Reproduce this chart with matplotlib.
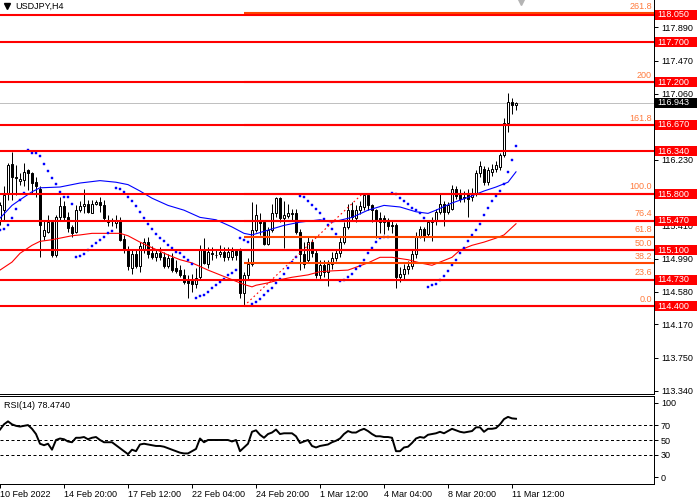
import numpy as np
import matplotlib
matplotlib.use("Agg")
import matplotlib.pyplot as plt
from matplotlib.patches import Rectangle
from matplotlib.transforms import blended_transform_factory

plt.rcParams['font.family'] = ['Liberation Sans', 'DejaVu Sans']

# ---- data ----
symbol = "USDJPY,H4"
last_price = 116.943

opens = [115.47, 115.60, 115.81, 116.18, 116.02, 115.96, 115.98, 116.10, 116.06, 115.95,
         115.87, 115.28, 115.33, 115.45, 115.04, 115.52, 115.65, 115.52, 115.39, 115.33,
         115.60, 115.65, 115.68, 115.57, 115.68, 115.70, 115.67, 115.48, 115.46, 115.44,
         115.48, 115.24, 115.10, 114.88, 115.05, 114.90, 115.12, 115.20, 115.06, 115.02,
         115.07, 115.02, 114.90, 115.00, 114.88, 114.85, 114.79, 114.72, 114.71, 114.68,
         114.76, 115.12, 114.93, 115.07, 115.04, 115.05, 115.08, 115.01, 115.02, 115.09,
         115.10, 114.56, 114.79, 114.93, 115.35, 115.48, 115.45, 115.18, 115.35, 115.56,
         115.75, 115.50, 115.53, 115.55, 115.56, 115.33, 115.05, 114.98, 115.20, 115.06,
         114.79, 114.91, 114.83, 114.93, 115.00, 115.06, 115.20, 115.39, 115.60, 115.50,
         115.60, 115.64, 115.79, 115.66, 115.60, 115.50, 115.50, 115.46, 115.42, 115.42,
         114.76, 114.80, 114.86, 114.90, 115.05, 115.27, 115.37, 115.30, 115.45, 115.47,
         115.58, 115.68, 115.58, 115.62, 115.87, 115.80, 115.76, 115.80, 115.76, 115.80,
         116.06, 116.12, 115.95, 116.08, 116.12, 116.14, 116.29, 116.69, 116.96, 116.92]
highs = [115.70, 115.90, 116.19, 116.33, 116.17, 116.06, 116.19, 116.11, 116.08, 116.02,
         115.90, 115.48, 115.54, 115.48, 115.54, 115.77, 115.71, 115.58, 115.42, 115.67,
         115.71, 115.87, 115.73, 115.73, 115.73, 115.77, 115.73, 115.54, 115.50, 115.54,
         115.52, 115.29, 115.15, 115.12, 115.12, 115.20, 115.25, 115.26, 115.15, 115.11,
         115.14, 115.08, 115.05, 115.06, 114.98, 114.91, 114.86, 114.79, 114.80, 114.88,
         115.16, 115.25, 115.14, 115.14, 115.12, 115.17, 115.14, 115.14, 115.14, 115.12,
         115.13, 114.83, 115.00, 115.70, 115.68, 115.56, 115.47, 115.39, 115.68, 115.77,
         115.77, 115.72, 115.68, 115.62, 115.62, 115.36, 115.20, 115.26, 115.24, 115.10,
         114.98, 114.97, 114.97, 115.08, 115.12, 115.26, 115.45, 115.68, 115.70, 115.66,
         115.72, 115.81, 115.81, 115.68, 115.62, 115.58, 115.54, 115.50, 115.48, 115.44,
         114.89, 114.92, 114.96, 115.10, 115.33, 115.40, 115.39, 115.48, 115.52, 115.62,
         115.80, 115.72, 115.70, 115.92, 115.90, 115.86, 115.84, 115.86, 115.88, 116.10,
         116.22, 116.15, 116.14, 116.18, 116.22, 116.32, 116.75, 117.07, 117.00, 116.96]
lows = [115.42, 115.48, 115.73, 115.73, 115.79, 115.92, 115.90, 115.85, 115.81, 115.77,
        115.02, 115.23, 115.31, 115.02, 115.02, 115.48, 115.46, 115.33, 115.27, 115.31,
        115.58, 115.56, 115.56, 115.56, 115.67, 115.58, 115.46, 115.40, 115.40, 115.38,
        115.21, 115.06, 114.85, 114.80, 114.87, 114.82, 115.07, 115.00, 114.99, 114.96,
        114.98, 114.87, 114.88, 114.83, 114.81, 114.76, 114.68, 114.50, 114.58, 114.62,
        114.74, 114.92, 114.88, 114.98, 115.00, 115.02, 114.96, 114.98, 114.98, 114.98,
        114.50, 114.40, 114.72, 114.90, 115.33, 115.29, 115.16, 115.16, 115.33, 115.52,
        115.45, 115.13, 115.50, 115.48, 115.30, 114.85, 114.88, 114.95, 115.02, 114.75,
        114.72, 114.76, 114.65, 114.86, 114.96, 115.02, 115.18, 115.36, 115.46, 115.45,
        115.55, 115.60, 115.60, 115.45, 115.25, 115.32, 115.30, 115.35, 115.32, 114.63,
        114.70, 114.74, 114.80, 114.86, 115.00, 115.25, 115.22, 115.28, 115.22, 115.42,
        115.55, 115.40, 115.55, 115.60, 115.74, 115.70, 115.70, 115.52, 115.72, 115.78,
        116.02, 115.92, 115.92, 116.03, 116.08, 116.10, 116.27, 116.58, 116.80, 116.86]
closes = [115.66, 115.79, 116.17, 116.01, 116.00, 115.99, 116.08, 116.06, 115.94, 115.90,
          115.42, 115.35, 115.45, 115.04, 115.51, 115.65, 115.52, 115.38, 115.32, 115.60,
          115.65, 115.68, 115.58, 115.68, 115.70, 115.66, 115.50, 115.45, 115.46, 115.46,
          115.23, 115.10, 114.90, 115.05, 114.90, 115.15, 115.20, 115.05, 115.02, 115.07,
          115.02, 114.90, 115.00, 114.85, 114.84, 114.79, 114.70, 114.69, 114.68, 114.75,
          115.12, 114.94, 115.08, 115.05, 115.04, 115.08, 115.01, 115.08, 115.09, 115.04,
          114.56, 114.79, 114.93, 115.35, 115.54, 115.44, 115.18, 115.35, 115.56, 115.75,
          115.50, 115.54, 115.56, 115.57, 115.33, 115.05, 114.92, 115.20, 115.06, 114.79,
          114.91, 114.83, 114.93, 115.00, 115.06, 115.20, 115.39, 115.60, 115.52, 115.60,
          115.65, 115.79, 115.66, 115.60, 115.47, 115.45, 115.45, 115.40, 115.40, 114.76,
          114.80, 114.86, 114.90, 115.05, 115.27, 115.37, 115.27, 115.45, 115.47, 115.58,
          115.68, 115.58, 115.66, 115.87, 115.78, 115.74, 115.75, 115.74, 115.82, 116.06,
          116.15, 115.95, 116.10, 116.12, 116.16, 116.29, 116.69, 116.96, 116.92, 116.943]

sar = [115.35, 115.36, 115.41, 115.50, 115.62, 115.73, 115.82, 116.35, 116.32, 116.32,
       116.28, 116.18, 116.09, 116.00, 115.93, 115.83, 115.76, 115.76, 115.68, 115.02,
       115.03, 115.05, 115.10, 115.15, 115.19, 115.23, 115.27, 115.31, 115.34, 115.88,
       115.87, 115.83, 115.77, 115.71, 115.65, 115.58, 115.50, 115.43, 115.36, 115.30,
       115.25, 115.22, 115.17, 115.13, 115.08, 115.06, 115.02, 114.97, 114.92, 114.50,
       114.52, 114.54, 114.58, 114.63, 114.66, 114.70, 114.74, 114.79, 114.81, 114.85,
       115.25, 115.23, 115.20, 114.42, 114.45, 114.49, 114.54, 114.59, 114.63, 114.69,
       114.74, 114.80, 114.88, 114.95, 115.01, 115.78, 115.76, 115.72, 115.67, 115.62,
       115.56, 115.49, 115.42, 115.36, 115.30, 114.71, 114.72, 114.76, 114.80, 114.86,
       114.90, 114.98, 115.06, 115.13, 115.20, 115.25, 115.26, 115.27, 115.82, 115.80,
       115.75, 115.72, 115.68, 115.63, 115.60, 115.56, 115.50, 114.64, 114.66, 114.68,
       114.72, 114.78, 114.84, 114.91, 114.97, 115.06, 115.13, 115.21, 115.29, 115.35,
       115.43, 115.54, 115.63, 115.71, 115.78, 115.84, 115.93, 116.08, 116.23, 116.40]

blue_ma_bars = [0, 3, 5, 8, 10, 15, 20, 25, 29, 32, 35, 38, 42, 46, 50, 54, 58, 61, 63,
                67, 71, 75, 80, 83, 88, 92, 96, 100, 104, 107, 109, 113, 117, 121, 124, 127, 129]
blue_ma = [115.50, 115.66, 115.73, 115.83, 115.88, 115.89, 115.94, 115.97, 115.95, 115.92,
           115.84, 115.75, 115.66, 115.60, 115.51, 115.48, 115.39, 115.31, 115.29, 115.35,
           115.41, 115.45, 115.48, 115.45, 115.51, 115.60, 115.66, 115.64, 115.58, 115.56,
           115.60, 115.69, 115.76, 115.84, 115.89, 115.95, 116.08]

red_ma_bars = [0, 3, 5, 8, 10, 13, 15, 18, 20, 23, 30, 32, 35, 38, 42, 45, 48, 52, 55, 58,
               61, 63, 64, 67, 70, 73, 77, 80, 83, 87, 92, 95, 98, 102, 105, 108, 110, 113,
               115, 118, 121, 124, 126, 129]
red_ma = [114.85, 114.95, 115.06, 115.16, 115.21, 115.23, 115.25, 115.28, 115.29, 115.31,
          115.31, 115.28, 115.20, 115.13, 115.04, 114.98, 114.94, 114.85, 114.79, 114.73,
          114.67, 114.64, 114.66, 114.69, 114.73, 114.76, 114.79, 114.83, 114.84, 114.85,
          114.94, 115.01, 115.01, 114.98, 114.94, 114.91, 114.95, 115.01, 115.10, 115.16,
          115.20, 115.25, 115.29, 115.43]

rsi = [64, 71, 75, 71, 69, 68, 69, 70, 65, 58, 45, 43, 45, 37, 50, 52, 51, 48, 47, 53,
       53, 54, 51, 53, 54, 50, 47, 47, 47, 43, 39, 35, 31, 37, 35, 44, 45, 44, 43, 42,
       42, 41, 39, 37, 35, 33, 32, 32, 35, 38, 52, 47, 50, 50, 50, 50, 50, 50, 48, 50,
       35, 40, 45, 61, 63, 57, 53, 58, 60, 64, 58, 59, 59, 59, 55, 46, 48, 50, 42, 40,
       42, 43, 44, 47, 49, 52, 58, 62, 60, 60, 63, 65, 62, 58, 55, 55, 54, 54, 53, 35,
       35, 40, 41, 46, 52, 54, 53, 57, 58, 59, 61, 59, 62, 65, 63, 61, 60, 61, 62, 67,
       67, 61, 65, 65, 66, 71, 78, 81, 79, 78.474]
rsi_levels = [70, 50, 30]

red_levels = [118.05, 117.70, 117.20, 116.67, 116.34, 115.80, 115.47, 115.10, 114.73, 114.40]
fib_levels = [114.40, 114.73, 114.935, 115.10, 115.265, 115.47, 115.805, 116.665, 117.20, 118.065]
fib_names = ["0.0", "23.6", "38.2", "50.0", "61.8", "76.4", "100.0", "161.8", "200", "261.8"]
fib_start_bar = 61
fib_trend = ([61, 90.5], [114.40, 115.80])

# 115.820 sits fully under the 115.800 box in the reference, so it is left out
price_ticks = [117.89, 117.47, 117.06, 116.65, 116.23, 115.41, 114.99, 114.58,
               114.17, 113.75, 113.34]
time_ticks = [0, 16, 32, 48, 64, 80, 96, 112, 128]
time_labels = ["10 Feb 2022", "14 Feb 20:00", "17 Feb 12:00", "22 Feb 04:00", "24 Feb 20:00",
               "1 Mar 12:00", "4 Mar 04:00", "8 Mar 20:00", "11 Mar 12:00"]

# ---- figure ----
W, H = 700, 500
fig = plt.figure(figsize=(7, 5), dpi=100)
fig.patch.set_facecolor('white')
px_per_price = 79.87
ax_right = 654

ax = fig.add_axes([0, 1 - 393.5 / H, ax_right / W, 393.5 / H])
ax2 = fig.add_axes([0, 1 - 484 / H, ax_right / W, 88 / H])

bars = np.arange(len(closes))
xmax = ax_right / 4.0
ax.set_xlim(0, xmax)
ax2.set_xlim(0, xmax)
ax.set_ylim(118.05 - (393.5 - 14.5) / px_per_price, 118.05 + 14.5 / px_per_price)
ax2.set_ylim(-9, 109)

lw1 = 0.72  # one pixel

# candles
o = np.array(opens); c = np.array(closes)
ax.vlines(bars, lows, highs, color='black', lw=lw1, zorder=3)
body_bot = np.minimum(o, c)
body_h = np.maximum(np.abs(c - o), 0.004)
face = ['white' if cc >= oo else 'black' for oo, cc in zip(o, c)]
ax.bar(bars, body_h, bottom=body_bot, width=0.62, color=face, edgecolor='black',
       linewidth=lw1, zorder=3.5)

# moving averages
ax.plot(blue_ma_bars, blue_ma, color='#0000ff', lw=0.8, zorder=4)
ax.plot(red_ma_bars, red_ma, color='#ff0000', lw=0.8, zorder=4)

# parabolic SAR
ax.plot(bars, sar, 's', ms=2.0, color='#0000ff', mec='#0000ff', mew=0.3, zorder=5)

# current price line
ax.axhline(last_price, color='#c0c0c0', lw=lw1, zorder=2)

# fibonacci lines and labels
for lev, name in zip(fib_levels, fib_names):
    ax.plot([fib_start_bar, xmax], [lev, lev], color='#ff4500', lw=1.5, zorder=6,
            solid_capstyle='butt')
    ax.text(652 / 4.0, lev + 2.5 / px_per_price, name, ha='right', va='bottom',
            fontsize=6.5, color='#ff7a3c', zorder=8)
ax.plot(fib_trend[0], fib_trend[1], color='#ff0000', lw=0.8, ls=(0, (1.5, 2.5)), zorder=6)

# red horizontal levels
for lev in red_levels:
    ax.axhline(lev, color='#ff0000', lw=1.5, zorder=7)

# right price scale
ax.yaxis.tick_right()
ax.set_yticks(price_ticks)
ax.set_yticklabels(["%.3f" % t for t in price_ticks])
ax.tick_params(axis='y', direction='out', length=3, width=lw1, pad=2, labelsize=6.5,
               colors='black')
ax.set_xticks([])
for s in ['top', 'left']:
    ax.spines[s].set_visible(False)
for s in ['right', 'bottom']:
    ax.spines[s].set_linewidth(lw1)

trans = blended_transform_factory(ax.transAxes, ax.transData)
box_h = 10 / px_per_price
for lev in red_levels:
    ax.add_patch(Rectangle((1 + 1 / ax_right, lev - box_h / 2), 42 / ax_right, box_h,
                           transform=trans, facecolor='#ff0000', edgecolor='none',
                           clip_on=False, zorder=9))
    ax.text(1 + 3.5 / ax_right, lev, "%.3f" % lev, transform=trans, ha='left',
            va='center', fontsize=6.5, color='white', clip_on=False, zorder=10)
ax.add_patch(Rectangle((1 + 1 / ax_right, last_price - box_h / 2), 42 / ax_right, box_h,
                       transform=trans, facecolor='black', edgecolor='none',
                       clip_on=False, zorder=9))
ax.text(1 + 3.5 / ax_right, last_price, "%.3f" % last_price, transform=trans, ha='left',
        va='center', fontsize=6.5, color='white', clip_on=False, zorder=10)

# title and markers
ax.plot([6.5 / ax_right], [1 - 5.5 / 393.5], marker='v', ms=4, color='black',
        transform=ax.transAxes, clip_on=False)
ax.text(15 / ax_right, 1 - 6.5 / 393.5, symbol, transform=ax.transAxes, ha='left',
        va='center', fontsize=6.5, color='black')
ax.plot([521 / ax_right], [1 - 1.5 / 393.5], marker='v', ms=5, color='#b4b4b4',
        transform=ax.transAxes, clip_on=False)

# RSI panel
ax2.plot(bars, rsi, color='black', lw=1.4, zorder=3)
for lev in rsi_levels:
    ax2.axhline(lev, color='black', lw=lw1, ls=(0, (3, 2.5)), zorder=2)
ax2.yaxis.tick_right()
ax2.set_yticks([100, 70, 50, 30, 0])
ax2.set_yticklabels(["100", "70", "50", "30", "0"])
ax2.tick_params(axis='y', direction='out', length=3, width=lw1, pad=2, labelsize=6.5)
ax2.set_xticks(time_ticks)
ax2.set_xticklabels(time_labels, ha='left')
ax2.tick_params(axis='x', direction='out', length=3, width=lw1, pad=1.5, labelsize=6.5)
ax2.spines['left'].set_visible(False)
for s in ['top', 'right', 'bottom']:
    ax2.spines[s].set_linewidth(lw1)
ax2.text(4 / ax_right, (484 - 405) / 88.0, "RSI(14) %.4f" % rsi[-1], transform=ax2.transAxes,
         ha='left', va='center', fontsize=6.5, color='black')

fig.savefig('out.png', dpi=100)
